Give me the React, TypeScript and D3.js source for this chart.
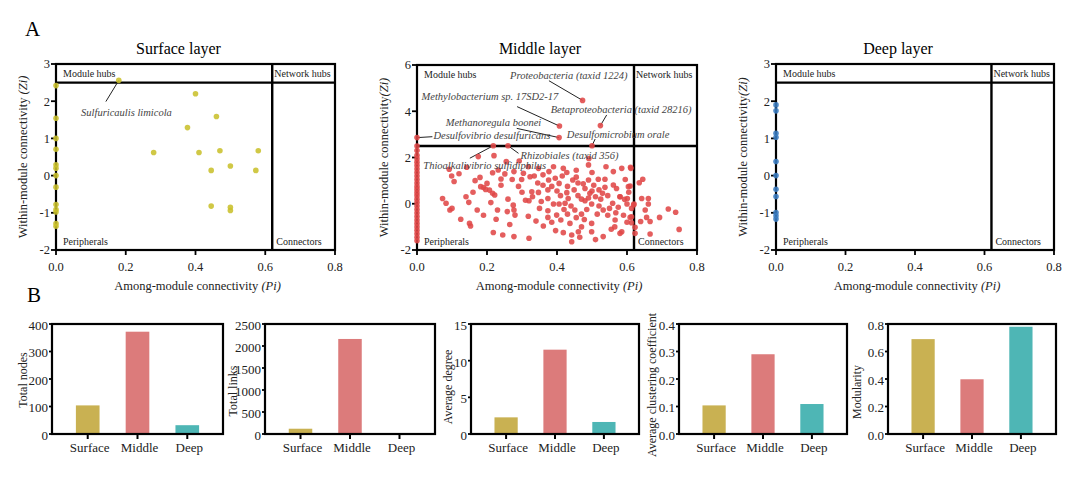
import React from 'react';
import * as d3 from 'd3';

const FONT = '"Liberation Serif","Times New Roman",serif';

// ---------------- DATA ----------------
const layerTitles = ['Surface layer', 'Middle layer', 'Deep layer'];
const piTicks = [0, 0.2, 0.4, 0.6, 0.8];
const piThreshold = 0.62;
const ziThreshold = 2.5;
const quadrantNames = ['Module hubs', 'Network hubs', 'Peripherals', 'Connectors'];

const surfaceZiTicks = [-2, -1, 0, 1, 2, 3];
const middleZiTicks = [-2, 0, 2, 4, 6];
const deepZiTicks = [-2, -1, 0, 1, 2, 3];

const surfacePoints: [number, number][] = [
  [0, 2.42], [0, 1.54], [0, 1.0], [0, 0.71], [0, 0.29], [0, 0.2], [0, 0.0], [0, -0.31],
  [0, -0.78], [0, -0.91], [0, -0.98], [0, -1.29], [0, -1.36],
  [0.18, 2.56], [0.40, 2.2], [0.46, 1.59], [0.377, 1.29], [0.28, 0.62], [0.41, 0.62],
  [0.47, 0.67], [0.58, 0.67], [0.50, 0.26], [0.445, 0.14], [0.573, 0.14],
  [0.445, -0.82], [0.50, -0.85], [0.50, -0.94],
];

const middlePoints: [number, number][] = [
  // labelled nodes
  [0.473, 4.47], [0.407, 3.36], [0.524, 3.38], [0.406, 2.86], [0, 2.86], [0.50, 2.51], [0.26, 2.51], [0.218, 2.51],
  // peripherals column
  [0, 2.5], [0, 2.3], [0, 2.1], [0, 1.95], [0, 1.8], [0, 1.65], [0, 1.5], [0, 1.35], [0, 1.2], [0, 1.05],
  [0, 0.9], [0, 0.75], [0, 0.62], [0, 0.48], [0, 0.35], [0, 0.2], [0, 0.05], [0, -0.1], [0, -0.25],
  [0, -0.4], [0, -0.55], [0, -0.7], [0, -0.85], [0, -1.0], [0, -1.15], [0, -1.3], [0, -1.45], [0, -1.6],
  // left cloud
  [0.175, 2.04], [0.22, 2.08], [0.092, 1.49], [0.099, 1.2], [0.106, 0.96], [0.142, 1.58], [0.166, 1.0],
  [0.18, 1.14], [0.182, 0.74], [0.2, 0.88], [0.207, 0.59], [0.216, 0.45], [0.216, 1.34], [0.232, 1.46],
  [0.251, 1.29], [0.24, 1.07], [0.277, 1.39], [0.272, 1.05], [0.299, 1.05], [0.304, 1.32], [0.292, 1.85],
  [0.255, 1.82], [0.073, 0.23], [0.083, 0.02], [0.094, -0.27], [0.148, 0.06], [0.172, -0.27], [0.211, 0.05],
  [0.222, 0.38], [0.23, -0.27], [0.258, -0.34], [0.275, -0.06], [0.277, -0.27], [0.28, -0.49], [0.125, -0.67],
  [0.15, -0.85], [0.153, -0.96], [0.226, -0.67], [0.218, -1.24], [0.245, -1.35], [0.277, -1.42], [0.19, 0.7],
  [0.196, 0.62], [0.3, 0.5], [0.31, 0.15],
  [0.12, 1.3], [0.14, 0.3], [0.16, 0.5], [0.24, 0.8], [0.26, 0.2], [0.265, -0.9], [0.19, -0.5], [0.1, -0.2], [0.29, 0.75],
  // central cloud
  [0.491, 1.96], [0.49, 1.68], [0.377, 1.39], [0.347, 1.53], [0.318, 1.6], [0.418, 1.53], [0.428, 1.35],
  [0.323, 1.17], [0.376, 1.03], [0.406, 0.88], [0.445, 1.03], [0.475, 0.86], [0.49, 1.03], [0.518, 1.06],
  [0.537, 1.06], [0.561, 1.39], [0.585, 1.53], [0.611, 1.53], [0.328, 0.52], [0.347, 0.49], [0.374, 0.6],
  [0.428, 0.48], [0.449, 0.6], [0.48, 0.66], [0.494, 0.45], [0.52, 0.6], [0.537, 0.71], [0.561, 0.81],
  [0.57, 0.66], [0.593, 0.19], [0.604, 0.74], [0.32, 0.13], [0.374, 0.23], [0.39, -0.01], [0.406, -0.01],
  [0.423, 0.02], [0.432, 0.23], [0.451, -0.27], [0.48, 0.13], [0.499, -0.01], [0.532, -0.27], [0.559, 0.02],
  [0.568, -0.39], [0.6, -0.01], [0.619, -0.05], [0.318, -0.54], [0.374, -0.59], [0.399, -0.49], [0.411, -0.7],
  [0.437, -0.85], [0.478, -0.68], [0.499, -0.85], [0.566, -0.7], [0.613, -0.56], [0.396, -1.16], [0.418, -1.25],
  [0.442, -1.35], [0.461, -1.21], [0.499, -1.21], [0.532, -1.42], [0.585, -1.21], [0.442, -1.64], [0.32, -1.49],
  [0.361, -0.96], [0.374, -0.3], [0.46, 0.35], [0.51, 0.3], [0.545, -0.5], [0.47, -0.45], [0.41, 0.35],
  [0.52, -0.1], [0.58, 0.3], [0.44, -0.1], [0.36, 0.8], [0.395, 1.1], [0.455, 1.15], [0.5, 0.55], [0.53, 0.45],
  [0.35, -0.2], [0.565, -1.0], [0.47, -1.0], [0.6, -0.8],
  [0.335, 1.2], [0.345, 0.9], [0.36, 1.25], [0.385, 0.75], [0.4, 0.55], [0.415, 1.2], [0.43, 0.75], [0.46, 0.9],
  [0.47, 0.2], [0.49, 0.25], [0.505, 0.8], [0.515, -0.45], [0.525, 0.2], [0.545, 0.35], [0.55, -0.2], [0.555, -1.1],
  [0.575, -0.15], [0.59, -0.5], [0.595, 1.05], [0.605, 0.5], [0.485, -0.25], [0.455, -0.6], [0.43, -0.45],
  [0.42, -0.25], [0.385, -0.8], [0.34, -0.75], [0.33, 0.3], [0.355, 0.1], [0.465, -1.45], [0.51, -1.55],
  [0.39, 1.6], [0.455, 1.45], [0.5, 1.35], [0.54, 1.6],
  // connectors
  [0.61, 1.58], [0.645, 1.06], [0.635, 0.91], [0.609, 0.77], [0.601, 0.23], [0.642, 0.23], [0.661, 0.23],
  [0.661, -0.01], [0.62, -0.01], [0.613, -0.2], [0.652, -0.27], [0.718, -0.23], [0.739, -0.37], [0.693, -0.59],
  [0.656, -0.59], [0.666, -0.77], [0.639, -0.77], [0.609, -0.59], [0.613, -0.82], [0.623, -1.02], [0.623, -1.28],
  [0.666, -1.31], [0.749, -1.11], [0.58, -1.28], [0.58, 0.3],
];

const deepPoints: [number, number][] = [
  [0, 1.9], [0, 1.74], [0, 1.14], [0, 1.03], [0, 0.38], [0, 0.0], [0, -0.37], [0, -0.56], [0, -0.99], [0, -1.08], [0, -1.17],
];

type NodeLabel = { name: string; pi: number; zi: number; tx: number; ty: number; lx: number; ly: number };

const surfaceLabels: NodeLabel[] = [
  { name: 'Sulfuricaulis limicola', pi: 0.18, zi: 2.56, tx: 0.072, ty: 1.71, lx: 0.143, ly: 1.99 },
];

const middleLabels: NodeLabel[] = [
  { name: 'Proteobacteria (taxid 1224)', pi: 0.473, zi: 4.47, tx: 0.266, ty: 5.54, lx: 0.377, ly: 5.32 },
  { name: 'Methylobacterium sp. 17SD2-17', pi: 0.407, zi: 3.36, tx: 0.013, ty: 4.63, lx: 0.286, ly: 4.2 },
  { name: 'Betaproteobacteria (taxid 28216)', pi: 0.524, zi: 3.38, tx: 0.382, ty: 4.08, lx: 0.542, ly: 3.84 },
  { name: 'Methanoregula boonei', pi: 0.406, zi: 2.86, tx: 0.082, ty: 3.52, lx: 0.285, ly: 3.26 },
  { name: 'Desulfovibrio desulfuricans', pi: 0, zi: 2.86, tx: 0.047, ty: 2.94, lx: 0.044, ly: 2.9 },
  { name: 'Desulfomicrobium orale', pi: 0.50, zi: 2.51, tx: 0.428, ty: 2.99, lx: 0.509, ly: 2.8 },
  { name: 'Rhizobiales (taxid 356)', pi: 0.26, zi: 2.51, tx: 0.296, ty: 2.08, lx: 0.29, ly: 2.18 },
  { name: 'Thioalkalivibrio sulfidiphilus', pi: 0.218, zi: 2.51, tx: 0.018, ty: 1.68, lx: 0.151, ly: 1.97 },
];

const categories = ['Surface', 'Middle', 'Deep'];
const totalNodes = [104, 372, 32];
const totalLinks = [120, 2160, 8];
const avgDegree = [2.27, 11.5, 1.64];
const avgClustering = [0.104, 0.29, 0.109];
const modularity = [0.69, 0.398, 0.78];

const nodesTicks = [0, 100, 200, 300, 400];
const linksTicks = [0, 500, 1000, 1500, 2000, 2500];
const degreeTicks = [0, 5, 10, 15];
const clusteringTicks = [0, 0.1, 0.2, 0.3, 0.4];
const modularityTicks = [0, 0.2, 0.4, 0.6, 0.8];

const barColors = ['#c9b152', '#dc7b7b', '#4eb6b5'];
const dotColors = ['#c9c02c', '#e04848', '#3a7cc2'];

// ---------------- COMPONENTS ----------------
type ScatterProps = {
  title: string; x0: number; x1: number; y0: number; y1: number;
  yDomain: [number, number]; yTicks: number[]; color: string;
  points: [number, number][]; labels: NodeLabel[]; ySpace: boolean;
};

function Scatter({ title, x0, x1, y0, y1, yDomain, yTicks, color, points, labels, ySpace }: ScatterProps) {
  const x = d3.scaleLinear().domain([0, 0.8]).range([x0, x1]);
  const y = d3.scaleLinear().domain(yDomain).range([y1, y0]);
  const xv = x(piThreshold);
  const yh = y(ziThreshold);
  const cx = (x0 + x1) / 2;
  const cy = (y0 + y1) / 2;
  const fmt = d3.format('.1f');
  return (
    <g>
      <text x={cx - 17} y={54} textAnchor="middle" fontSize={16}>{title}</text>
      {piTicks.map((t) => (
        <g key={'xt' + t}>
          <line x1={x(t)} x2={x(t)} y1={y1} y2={y1 + 5} stroke="#000" strokeWidth={1.8} />
          <text x={x(t)} y={y1 + 21} textAnchor="middle" fontSize={12.5} fill="#222">{fmt(t)}</text>
        </g>
      ))}
      {yTicks.map((t) => (
        <g key={'yt' + t}>
          <line x1={x0 - 5} x2={x0} y1={y(t)} y2={y(t)} stroke="#000" strokeWidth={1.8} />
          <text x={x0 - 6} y={y(t)} dy="0.35em" textAnchor="end" fontSize={12.5} fill="#222">{t}</text>
        </g>
      ))}
      <rect x={x0} y={y0} width={x1 - x0} height={y1 - y0} fill="none" stroke="#000" strokeWidth={2.2} />
      <line x1={x0} x2={x1} y1={yh} y2={yh} stroke="#000" strokeWidth={2.4} />
      <line x1={xv} x2={xv} y1={y0} y2={y1} stroke="#000" strokeWidth={2.4} />
      <text x={x0 + 7} y={y0 + 13} fontSize={10} fill="#222">{quadrantNames[0]}</text>
      <text x={xv + 2} y={y0 + 13} fontSize={10} fill="#222">{quadrantNames[1]}</text>
      <text x={x0 + 7} y={y1 - 5} fontSize={10} fill="#222">{quadrantNames[2]}</text>
      <text x={xv + 4} y={y1 - 5} fontSize={10} fill="#222">{quadrantNames[3]}</text>
      {labels.map((l) => (
        <line key={'ll' + l.name} x1={x(l.lx)} y1={y(l.ly)} x2={x(l.pi)} y2={y(l.zi)} stroke="#222" strokeWidth={1} />
      ))}
      {points.map(([p, z], i) => (
        <circle key={i} cx={x(p)} cy={y(z)} r={2.8} fill={color} fillOpacity={0.88} />
      ))}
      {labels.map((l) => (
        <text key={'lt' + l.name} x={x(l.tx)} y={y(l.ty)} dy="0.35em" fontSize={10.5} fontStyle="italic" fill="#444">{l.name}</text>
      ))}
      <text x={cx + 2} y={y1 + 40} textAnchor="middle" fontSize={12.5} fill="#222">
        Among-module connectivity<tspan fontStyle="italic">{' (Pi)'}</tspan>
      </text>
      <text transform={`translate(${x0 - 33},${cy}) rotate(-90)`} textAnchor="middle" dy="0.35em" fontSize={12.5} fill="#222">
        {ySpace ? 'Within-module connectivity ' : 'Within-module connectivity'}<tspan fontStyle="italic">(Zi)</tspan>
      </text>
    </g>
  );
}

type BarProps = {
  x0: number; x1: number; values: number[]; ticks: number[]; label: string;
  labelDx: number; labelCy: number; fmt: (v: number) => string;
};

function BarPanel({ x0, x1, values, ticks, label, labelDx, labelCy, fmt }: BarProps) {
  const y0 = 324, y1 = 434;
  const x = d3.scaleBand<string>().domain(categories).range([x0, x1]).paddingInner(0.525).paddingOuter(0.48);
  const y = d3.scaleLinear().domain([0, ticks[ticks.length - 1]]).range([y1, y0]);
  return (
    <g>
      {values.map((v, i) => (
        <rect key={i} x={x(categories[i])} y={y(v)} width={x.bandwidth()} height={y1 - y(v)} fill={barColors[i]} />
      ))}
      {ticks.map((t) => (
        <g key={t}>
          <line x1={x0 - 3} x2={x0} y1={y(t)} y2={y(t)} stroke="#000" strokeWidth={1.8} />
          <text x={x0 - 4} y={y(t)} dy="0.45em" textAnchor="end" fontSize={13} fill="#222">{fmt(t)}</text>
        </g>
      ))}
      {categories.map((c) => (
        <g key={c}>
          <line x1={(x(c) as number) + x.bandwidth() / 2} x2={(x(c) as number) + x.bandwidth() / 2} y1={y1} y2={y1 + 5} stroke="#000" strokeWidth={2} />
          <text x={(x(c) as number) + x.bandwidth() / 2 + 2} y={y1 + 18} textAnchor="middle" fontSize={13} fill="#222">{c}</text>
        </g>
      ))}
      <rect x={x0} y={y0} width={x1 - x0} height={y1 - y0} fill="none" stroke="#000" strokeWidth={2.2} />
      <text transform={`translate(${x0 - labelDx},${labelCy}) rotate(-90)`} textAnchor="middle" dy="0.35em" fontSize={12} fill="#222">{label}</text>
    </g>
  );
}

export default function App() {
  const f0 = d3.format('d');
  const f1 = d3.format('.1f');
  return (
    <svg width={1080} height={481} style={{ position: 'absolute', left: 0, top: 0, background: '#fff' }} fontFamily={FONT}>
      <rect width={1080} height={481} fill="#fff" />
      <text x={25} y={36} fontSize={21}>A</text>
      <text x={27} y={302} fontSize={21}>B</text>
      <Scatter title={layerTitles[0]} x0={56} x1={335} y0={64} y1={250} yDomain={[-2, 3]} yTicks={surfaceZiTicks}
        color={dotColors[0]} points={surfacePoints} labels={surfaceLabels} ySpace={true} />
      <Scatter title={layerTitles[1]} x0={417} x1={697} y0={65} y1={250} yDomain={[-2, 6]} yTicks={middleZiTicks}
        color={dotColors[1]} points={middlePoints} labels={middleLabels} ySpace={false} />
      <Scatter title={layerTitles[2]} x0={776} x1={1054} y0={64} y1={250} yDomain={[-2, 3]} yTicks={deepZiTicks}
        color={dotColors[2]} points={deepPoints} labels={[]} ySpace={false} />
      <BarPanel x0={52} x1={223} values={totalNodes} ticks={nodesTicks} label="Total nodes" labelDx={29} labelCy={380} fmt={f0} />
      <BarPanel x0={265} x1={435} values={totalLinks} ticks={linksTicks} label="Total links" labelDx={32} labelCy={391} fmt={f0} />
      <BarPanel x0={471} x1={639} values={avgDegree} ticks={degreeTicks} label="Average degree" labelDx={23} labelCy={387} fmt={f0} />
      <BarPanel x0={679} x1={847} values={avgClustering} ticks={clusteringTicks} label="Average clustering coefficient" labelDx={27} labelCy={385} fmt={f1} />
      <BarPanel x0={888} x1={1056} values={modularity} ticks={modularityTicks} label="Modularity" labelDx={31} labelCy={392} fmt={f1} />
    </svg>
  );
}
